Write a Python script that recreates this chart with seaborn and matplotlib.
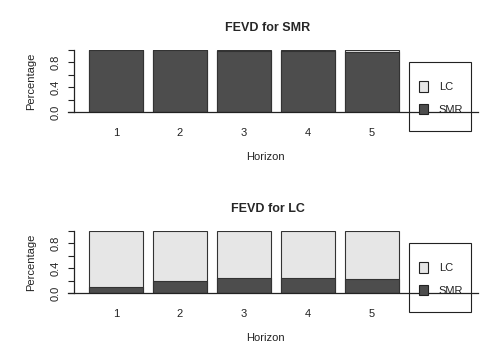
import matplotlib
matplotlib.use("Agg")
import matplotlib.pyplot as plt
import matplotlib.patches as mpatches
import seaborn as sns
import pandas as pd

# data
horizon = ["1", "2", "3", "4", "5"]
smr_in_smr = [1.0, 0.997, 0.99, 0.98, 0.975]
lc_in_smr = [0.0, 0.003, 0.01, 0.02, 0.025]
smr_in_lc = [0.10, 0.19, 0.24, 0.24, 0.23]
lc_in_lc = [0.90, 0.81, 0.76, 0.76, 0.77]

panels = [("FEVD for SMR", smr_in_smr, lc_in_smr), ("FEVD for LC", smr_in_lc, lc_in_lc)]

dark = "#4d4d4d"
light = "#e6e6e6"

sns.set_style("white")
plt.rcParams["font.family"] = ["Liberation Sans", "DejaVu Sans"]

W, H = 495, 357
fig = plt.figure(figsize=(W / 100, H / 100), dpi=100)

def fx(px):
   return px / W

def fy(py):
   return 1 - py / H

baselines = [112, 293]
for (title, smr, lc), base in zip(panels, baselines):
   df = pd.DataFrame({"Horizon": horizon, "SMR": smr, "LC": lc})
   df["total"] = df["SMR"] + df["LC"]
   ax = fig.add_axes([fx(68), fy(base), fx(478) - fx(68), 62 / H])
   # stacked bars: light total first, dark SMR share on top of it
   sns.barplot(data=df, x="Horizon", y="total", color=light, saturation=1,
               width=0.84, edgecolor="#333333", linewidth=0.8, ax=ax)
   sns.barplot(data=df, x="Horizon", y="SMR", color=dark, saturation=1,
               width=0.84, edgecolor="#333333", linewidth=0.8, ax=ax)
   ax.set_xlim(-0.75, (478 - 116) / 64)
   ax.set_ylim(0, 1)
   for s in ["top", "right"]:
      ax.spines[s].set_visible(False)
   ax.spines["bottom"].set_color("#222222")
   ax.spines["bottom"].set_linewidth(0.9)
   ax.spines["left"].set_position(("axes", 6 / 410))
   ax.spines["left"].set_bounds(0, 1)
   ax.spines["left"].set_color("#222222")
   ax.spines["left"].set_linewidth(0.9)
   ax.set_yticks([0, 0.2, 0.4, 0.6, 0.8, 1.0])
   ax.set_yticklabels(["0.0", "", "0.4", "", "0.8", ""], rotation=90, va="center")
   ax.tick_params(axis="y", left=True, length=4.5, width=0.8, color="#222222",
                  labelsize=8, pad=5, labelcolor="#222222")
   ax.tick_params(axis="x", bottom=False, labelsize=8, pad=8, labelcolor="#222222")
   ax.set_xlabel("Horizon", fontsize=8, color="#222222")
   ax.xaxis.set_label_coords((265 - 68) / 410, -(40 / 62))
   ax.set_ylabel("Percentage", fontsize=8, color="#222222")
   ax.yaxis.set_label_coords(-(32 / 410), 0.5)
   ax.set_title(title, fontsize=9, fontweight="bold", x=(268 - 68) / 410, y=1.18)

   # legend box like R's legend()
   top = base - 50
   frame = mpatches.Rectangle((fx(409), fy(top + 69)), fx(471) - fx(409), 69 / H,
                              transform=fig.transFigure, fill=False,
                              edgecolor="#222222", linewidth=0.8)
   fig.patches.append(frame)
   handles = [mpatches.Patch(facecolor=light, edgecolor="#222222", linewidth=0.8, label="LC"),
              mpatches.Patch(facecolor=dark, edgecolor="#222222", linewidth=0.8, label="SMR")]
   fig.legend(handles=handles, loc="center", bbox_to_anchor=(fx(441), fy(top + 36)),
              bbox_transform=fig.transFigure, frameon=False, fontsize=8,
              handlelength=0.8, handleheight=1.1, handletextpad=1.0,
              labelspacing=1.0, borderpad=0, labelcolor="#222222")

fig.savefig("out.png", dpi=100)
